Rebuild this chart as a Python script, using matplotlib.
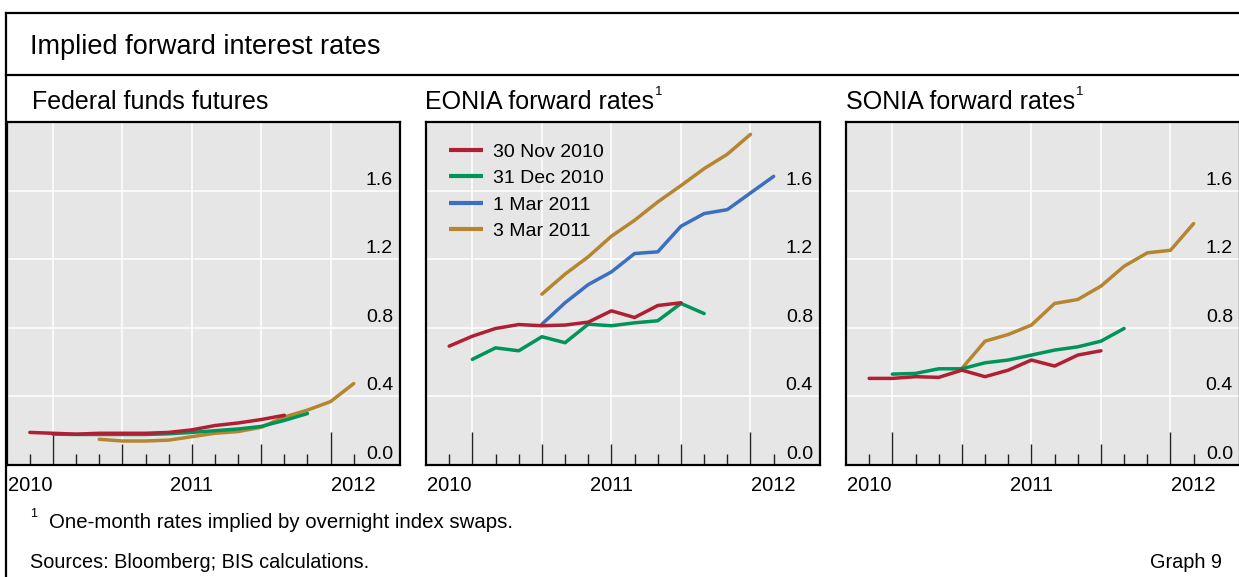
import numpy as np
import matplotlib
matplotlib.use("Agg")
import matplotlib.pyplot as plt
from matplotlib.lines import Line2D

plt.rcParams['font.family'] = ['Liberation Sans', 'DejaVu Sans']

W, H = 1239, 577
DPI = 100

# ---- data (x = position index along the 2010-2012 axis, 7 steps per year) ----
x_labels = ["2010", "2011", "2012"]
legend_labels = ["30 Nov 2010", "31 Dec 2010", "1 Mar 2011", "3 Mar 2011"]
colors = ["#b01f33", "#00935a", "#3b6fc0", "#b5852f"]

# Federal funds futures
ff_nov_x = list(range(0, 12))
ff_nov = [0.19, 0.185, 0.18, 0.185, 0.185, 0.185, 0.19, 0.205, 0.23, 0.245, 0.265, 0.29]
ff_dec_x = list(range(1, 13))
ff_dec = [0.18, 0.178, 0.178, 0.178, 0.178, 0.182, 0.19, 0.2, 0.21, 0.225, 0.26, 0.30]
ff_mar3_x = list(range(3, 15))
ff_mar3 = [0.15, 0.14, 0.14, 0.145, 0.165, 0.185, 0.195, 0.22, 0.28, 0.32, 0.37, 0.475]

# EONIA forward rates
eo_nov_x = list(range(0, 11))
eo_nov = [0.693, 0.751, 0.796, 0.819, 0.812, 0.816, 0.833, 0.899, 0.860, 0.930, 0.946]
eo_dec_x = list(range(1, 12))
eo_dec = [0.616, 0.683, 0.666, 0.748, 0.713, 0.821, 0.812, 0.829, 0.841, 0.942, 0.883]
eo_mar1_x = list(range(4, 15))
eo_mar1 = [0.821, 0.946, 1.052, 1.126, 1.233, 1.243, 1.392, 1.466, 1.489, 1.586, 1.683]
eo_mar3_x = list(range(4, 14))
eo_mar3 = [0.996, 1.113, 1.214, 1.334, 1.427, 1.534, 1.629, 1.728, 1.812, 1.928]

# SONIA forward rates
so_nov_x = list(range(0, 11))
so_nov = [0.505, 0.505, 0.515, 0.511, 0.553, 0.515, 0.553, 0.612, 0.577, 0.641, 0.666]
so_dec_x = list(range(1, 12))
so_dec = [0.530, 0.534, 0.561, 0.561, 0.596, 0.612, 0.641, 0.670, 0.689, 0.722, 0.796]
so_mar3_x = list(range(4, 15))
so_mar3 = [0.563, 0.722, 0.761, 0.816, 0.942, 0.965, 1.043, 1.159, 1.237, 1.252, 1.408]

y_ticks = [0.0, 0.4, 0.8, 1.2, 1.6]

fig = plt.figure(figsize=(W / DPI, H / DPI), dpi=DPI)


def fx(px):
    return px / W


def fy(py):
    return 1 - py / H


def add_panel(left_px, right_px):
    ax = fig.add_axes([fx(left_px), fy(465), fx(right_px - left_px), (465 - 122) / H])
    ax.set_facecolor("#e6e6e6")
    ax.set_xlim(-1, 16)
    ax.set_ylim(0, 2.0)
    for s in ax.spines.values():
        s.set_linewidth(1.6)
        s.set_color("black")
    for gx in [1, 4, 7, 10, 13]:
        ax.axvline(gx, color="white", lw=1.1, zorder=1)
    for gy in y_ticks[1:]:
        ax.axhline(gy, color="white", lw=1.1, zorder=1)
    pos = np.arange(0, 15)
    tall = [1, 13]
    med = [4, 7, 10]
    for p in pos:
        if p in tall:
            h = 0.096
        elif p in med:
            h = 0.062
        else:
            h = 0.032
        ax.vlines(p, 0, h, transform=ax.get_xaxis_transform(), color="#222222", lw=1.0, zorder=2)
    ax.set_xticks([0, 7, 14])
    ax.set_xticklabels(x_labels, fontsize=14.5)
    ax.tick_params(axis="x", length=0, pad=8)
    ax.set_yticks([])
    for v in y_ticks:
        ax.annotate(f"{v:.1f}", xy=(1, v), xycoords=("axes fraction", "data"),
                    xytext=(-7, 2), textcoords="offset pixels",
                    ha="right", va="bottom", fontsize=14, zorder=3)
    return ax


lw = 2.5
ax1 = add_panel(6.7, 400)
ax1.plot(ff_mar3_x, ff_mar3, color=colors[3], lw=lw, zorder=4, solid_capstyle="round")
ax1.plot(ff_dec_x, ff_dec, color=colors[1], lw=lw, zorder=5, solid_capstyle="round")
ax1.plot(ff_nov_x, ff_nov, color=colors[0], lw=lw, zorder=6, solid_capstyle="round")

ax2 = add_panel(426, 820)
l_nov, = ax2.plot(eo_nov_x, eo_nov, color=colors[0], lw=lw, zorder=6, solid_capstyle="round")
l_dec, = ax2.plot(eo_dec_x, eo_dec, color=colors[1], lw=lw, zorder=5, solid_capstyle="round")
l_m1, = ax2.plot(eo_mar1_x, eo_mar1, color=colors[2], lw=lw, zorder=4, solid_capstyle="round")
l_m3, = ax2.plot(eo_mar3_x, eo_mar3, color=colors[3], lw=lw, zorder=4, solid_capstyle="round")
leg = ax2.legend([l_nov, l_dec, l_m1, l_m3], legend_labels, loc="upper left",
                 bbox_to_anchor=((449 - 426) / 394, (465 - 143) / 343), frameon=False, fontsize=14,
                 handlelength=1.75, handletextpad=0.5, labelspacing=0.46,
                 borderaxespad=0, borderpad=0)
for lh in leg.get_lines():
    lh.set_linewidth(3.0)
    lh.set_solid_capstyle("butt")

ax3 = add_panel(846, 1240)
ax3.plot(so_mar3_x, so_mar3, color=colors[3], lw=lw, zorder=4, solid_capstyle="round")
ax3.plot(so_dec_x, so_dec, color=colors[1], lw=lw, zorder=5, solid_capstyle="round")
ax3.plot(so_nov_x, so_nov, color=colors[0], lw=lw, zorder=6, solid_capstyle="round")

# outer frame
frame_kw = dict(color="black", lw=1.6, transform=fig.transFigure)
fig.add_artist(Line2D([fx(5.5), fx(5.5)], [fy(13), fy(577)], **frame_kw))
fig.add_artist(Line2D([fx(5.5), 1], [fy(13), fy(13)], **frame_kw))
fig.add_artist(Line2D([fx(5.5), 1], [fy(75), fy(75)], **frame_kw))

# titles
fig.text(fx(30), fy(54), "Implied forward interest rates", fontsize=19.5, va="baseline", ha="left")
fig.text(fx(32), fy(109), "Federal funds futures", fontsize=18, va="baseline", ha="left")
t_eo = fig.text(fx(425), fy(109), "EONIA forward rates", fontsize=18, va="baseline", ha="left")
t_so = fig.text(fx(846), fy(109), "SONIA forward rates", fontsize=18, va="baseline", ha="left")

fig.canvas.draw()
renderer = fig.canvas.get_renderer()
for t in (t_eo, t_so):
    bb = t.get_window_extent(renderer)
    fig.text(bb.x1 / W + fx(1), fy(95), "1", fontsize=9.5, va="baseline", ha="left")

# footnotes
fig.text(fx(30), fy(517), "1", fontsize=9, va="baseline", ha="left")
fig.text(fx(49), fy(528), "One-month rates implied by overnight index swaps.", fontsize=14.7, va="baseline", ha="left")
fig.text(fx(30), fy(568), "Sources: Bloomberg; BIS calculations.", fontsize=14.3, va="baseline", ha="left")
fig.text(fx(1222), fy(568), "Graph 9", fontsize=14.3, va="baseline", ha="right")

fig.savefig("out.png", dpi=DPI)
